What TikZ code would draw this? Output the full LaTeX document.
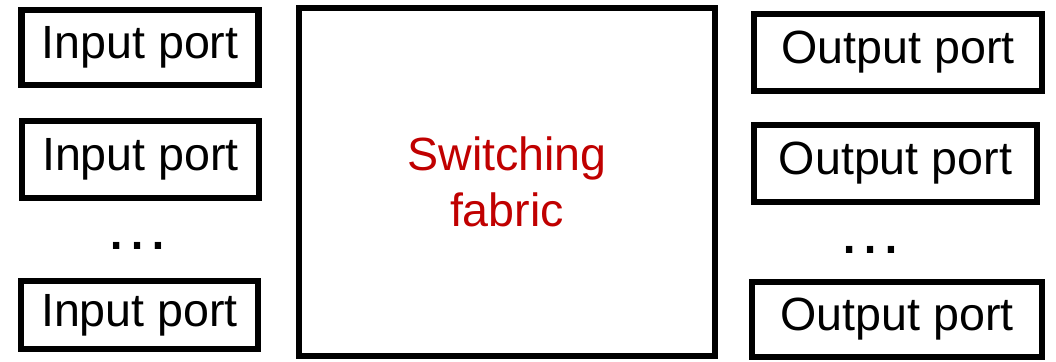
\documentclass[tikz,border=0pt]{standalone}
\usepackage{fontspec}
\setmainfont{Liberation Sans}
\definecolor{fabricred}{HTML}{C00000}
\tikzset{
    portbox/.style={draw, line width=6.5pt, inner sep=0pt, font=\fontsize{46.6pt}{56pt}\selectfont},
    fabricbox/.style={portbox, align=center, text=fabricred},
    moredots/.style={inner sep=0pt, font=\fontsize{66pt}{70pt}\selectfont}
}
\begin{document}
\begin{tikzpicture}[x=1pt, y=-1pt]
    \useasboundingbox (0,0) rectangle (1056,361);
    % ports on both sides
    \foreach \name/\x/\y/\w/\h/\label in {in1/140/47.5/237/75/Input port, in2/140.5/159.5/237/77/Input port, in3/139.5/315/237/68/Input port, out1/898/52.5/288/77/Output port, out2/895.5/163.5/283/77/Output port, out3/897/319.5/290/75/Output port} {
        \node[portbox, minimum width=\w pt, minimum height=\h pt] (\name) at (\x,\y) {\label};
    }
    % the fabric in the middle
    \node[fabricbox, minimum width=416pt, minimum height=348pt] (fabric) at (507,182) {Switching\\fabric};
    % more ports left out
    \node[moredots] (indots) at (137,246) {…};
    \node[moredots] (outdots) at (870,250) {…};
\end{tikzpicture}
\end{document}
